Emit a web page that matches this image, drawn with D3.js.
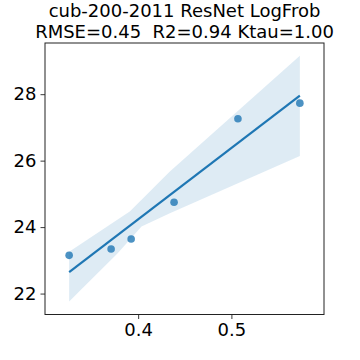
<!DOCTYPE html>
<html>
<head>
<meta charset="utf-8">
<script src="https://cdn.jsdelivr.net/npm/d3@7"></script>
<style>
  body { margin: 0; background: #fff; }
  text { font-family: "DejaVu Sans", sans-serif; }
</style>
</head>
<body>
<script>
// data
var xs = [0.326, 0.371, 0.3925, 0.4385, 0.507, 0.5734];
var ys = [23.15, 23.34, 23.64, 24.75, 27.26, 27.73];

// bootstrap confidence band (edges)
var bandLowX = [0.326, 0.3783, 0.4036, 0.434, 0.5734];
var bandLowY = [21.76, 23.22, 24.02, 24.42, 26.14];
var bandHighX = [0.326, 0.391, 0.434, 0.5734];
var bandHighY = [23.26, 24.47, 25.67, 29.16];

var xTicks = [0.4, 0.5];
var yTicks = [22, 24, 26, 28];
var titleLines = ["cub-200-2011 ResNet LogFrob", "RMSE=0.45  R2=0.94 Ktau=1.00"];

var width = 360, height = 360;
var margin = {left: 45, right: 36, top: 43, bottom: 45.5};
var blue = "#1f77b4";

var svg = d3.select('body').append('svg').attr('width', width).attr('height', height);

var x = d3.scaleLinear().domain([0.3001, 0.5993]).range([margin.left, width - margin.right]);
var y = d3.scaleLinear().domain([21.37, 29.54]).range([height - margin.bottom, margin.top]);

// least squares fit
var mx = d3.mean(xs), my = d3.mean(ys);
var sxy = d3.sum(xs, (v, i) => (v - mx) * (ys[i] - my));
var sxx = d3.sum(xs, v => (v - mx) * (v - mx));
var slope = sxy / sxx, icpt = my - slope * mx;
var xMin = d3.min(xs), xMax = d3.max(xs);

// band
var bandPts = bandHighX.map((v, i) => [x(v), y(bandHighY[i])])
    .concat(bandLowX.map((v, i) => [x(v), y(bandLowY[i])]).reverse());
svg.append('path')
    .attr('d', d3.line()(bandPts) + 'Z')
    .attr('fill', blue)
    .attr('fill-opacity', 0.15);

// regression line
svg.append('line')
    .attr('x1', x(xMin)).attr('y1', y(icpt + slope * xMin))
    .attr('x2', x(xMax)).attr('y2', y(icpt + slope * xMax))
    .attr('stroke', blue)
    .attr('stroke-width', 2.2);

// points
svg.append('g').selectAll('circle')
    .data(xs)
    .enter()
    .append('circle')
    .attr('cx', d => x(d))
    .attr('cy', (d, i) => y(ys[i]))
    .attr('r', 3.8)
    .attr('fill', blue)
    .attr('fill-opacity', 0.8);

// axes
var xAxis = svg.append('g')
    .attr('transform', 'translate(0,' + (height - margin.bottom) + ')')
    .call(d3.axisBottom(x).tickValues(xTicks).tickFormat(d3.format('.1f')).tickSizeOuter(0).tickSize(4.5).tickPadding(4));
var yAxis = svg.append('g')
    .attr('transform', 'translate(' + margin.left + ',0)')
    .call(d3.axisLeft(y).tickValues(yTicks).tickFormat(d3.format('d')).tickSizeOuter(0).tickSize(4.5).tickPadding(4));
[xAxis, yAxis].forEach(function (g) {
    g.select('.domain').remove();
    g.selectAll('line').attr('stroke', '#222').attr('stroke-width', 0.9);
    g.selectAll('text').attr('font-family', 'DejaVu Sans').attr('font-size', 18).attr('fill', '#000');
});

// frame
svg.append('rect')
    .attr('x', margin.left).attr('y', margin.top)
    .attr('width', width - margin.left - margin.right)
    .attr('height', height - margin.top - margin.bottom)
    .attr('fill', 'none')
    .attr('stroke', '#222')
    .attr('stroke-width', 1);

// title
svg.append('g').selectAll('text')
    .data(titleLines)
    .enter()
    .append('text')
    .attr('x', (margin.left + width - margin.right) / 2)
    .attr('y', (d, i) => 17 + i * 20.5)
    .attr('text-anchor', 'middle')
    .attr('font-size', 18)
    .attr('fill', '#000')
    .style('white-space', 'pre')
    .text(d => d);
</script>
</body>
</html>
